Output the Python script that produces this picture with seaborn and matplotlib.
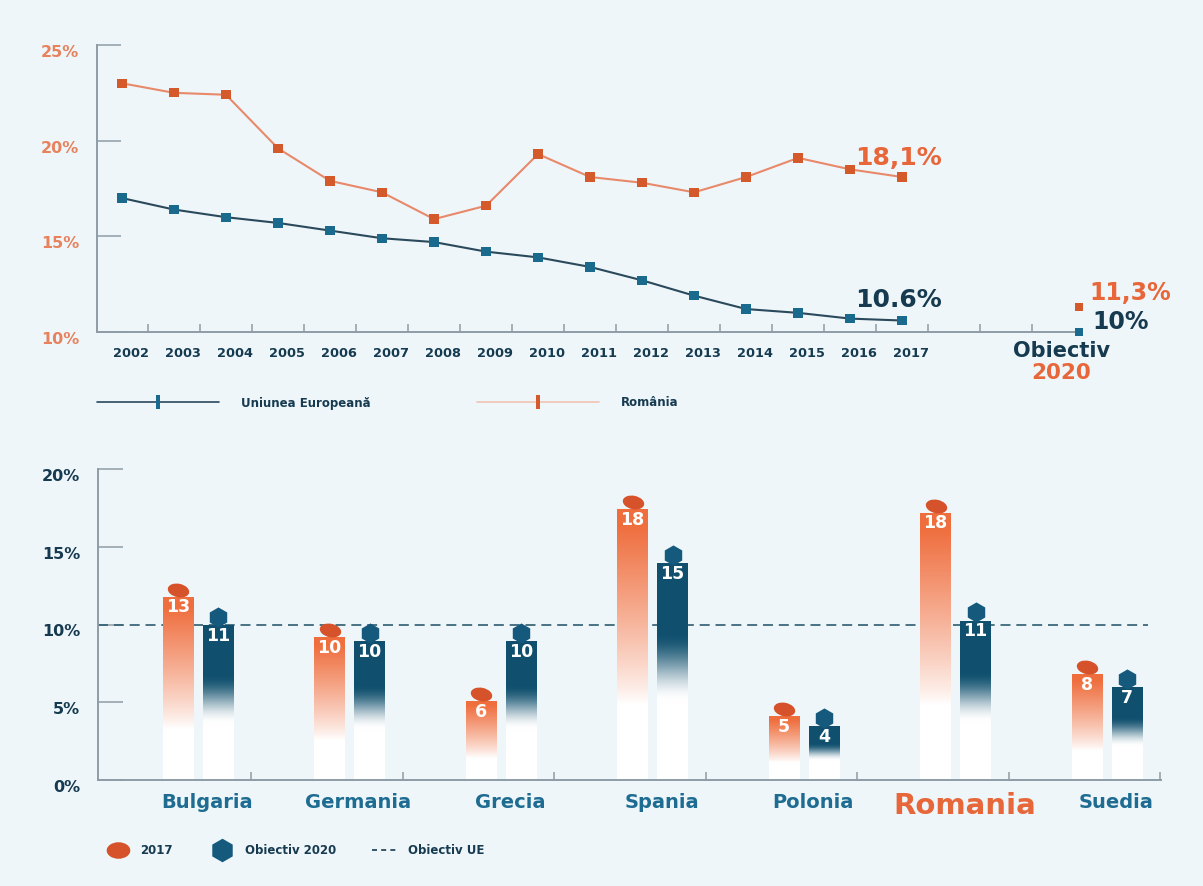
import numpy as np
import pandas as pd
import seaborn as sns
import matplotlib.pyplot as plt
from matplotlib.lines import Line2D
from matplotlib.path import Path
from matplotlib.transforms import Affine2D, ScaledTranslation
from matplotlib.colors import to_rgb

# top chart: early school leavers, 2002-2017
years = list(range(2002, 2018))
romania = [23.0, 22.5, 22.4, 19.6, 17.9, 17.3, 15.9, 16.6, 19.3, 18.1, 17.8, 17.3, 18.1, 19.1, 18.5, 18.1]
eu = [17.0, 16.4, 16.0, 15.7, 15.3, 14.9, 14.7, 14.2, 13.9, 13.4, 12.7, 11.9, 11.2, 11.0, 10.7, 10.6]
target_romania = 11.3
target_eu = 10.0

# bottom chart: 2017 vs 2020 target per country
countries = ["Bulgaria", "Germania", "Grecia", "Spania", "Polonia", "Romania", "Suedia"]
rate_2017 = [12.7, 10.1, 6.0, 18.3, 5.0, 18.1, 7.7]
target_2020 = [11.0, 10.0, 10.0, 15.0, 4.5, 11.3, 7.0]
labels_2017 = ["13", "10", "6", "18", "5", "18", "8"]
labels_2020 = ["11", "10", "10", "15", "4", "11", "7"]
eu_goal = 10

BG = "#EEF6FA"
ORANGE = "#E8673A"
ORANGE_TICK = "#E7825C"
ORANGE_LINE = "#E8896A"
ORANGE_MARK = "#D4592B"
BLUE_LINE = "#2A4A5C"
BLUE_MARK = "#1A6A8E"
NAVY = "#163A4F"
TEAL = "#1E6C91"
GRAY = "#8E9CA6"
BAR_ORANGE = "#EF6E3E"
BAR_BLUE = "#10506E"
CAP_ORANGE = "#D6522A"
CAP_BLUE = "#15597D"

sns.set_theme(style="white", rc={"axes.facecolor": BG, "figure.facecolor": BG})
plt.rcParams["font.family"] = ["DejaVu Sans"]
plt.rcParams["font.weight"] = "bold"

fig = plt.figure(figsize=(12.03, 8.86), dpi=100)
ax1 = fig.add_axes([97 / 1203, 1 - 332 / 886, (1079 - 97) / 1203, (332 - 45) / 886])
ax2 = fig.add_axes([98 / 1203, 1 - 780 / 886, (1161 - 98) / 1203, (780 - 469) / 886])

down = ScaledTranslation(0, -6 / 100, fig.dpi_scale_trans)

# ---------------- top line chart ----------------
top = pd.DataFrame({
    "pos": list(range(len(years))) * 2,
    "value": eu + romania,
    "series": ["Uniunea Europeană"] * len(years) + ["România"] * len(years),
})
line_pal = {"Uniunea Europeană": BLUE_LINE, "România": ORANGE_LINE}
mark_pal = {"Uniunea Europeană": BLUE_MARK, "România": ORANGE_MARK}
sns.lineplot(data=top, x="pos", y="value", hue="series", palette=line_pal,
             linewidth=1.5, legend=False, ax=ax1)
sns.scatterplot(data=top, x="pos", y="value", hue="series", palette=mark_pal,
                marker="s", s=45, linewidth=0, legend=False, ax=ax1, zorder=3)

goal_pos = len(years) + 2.4
goal = pd.DataFrame({"pos": [goal_pos, goal_pos], "value": [target_eu, target_romania],
                     "series": ["Uniunea Europeană", "România"]})
sns.scatterplot(data=goal, x="pos", y="value", hue="series", palette=mark_pal,
                marker="s", s=30, linewidth=0, legend=False, ax=ax1, zorder=4, clip_on=False)

ax1.set_xlim(-0.48, goal_pos)
ax1.set_ylim(10, 25)
ax1.set_xlabel("")
ax1.set_ylabel("")
ax1.set_xticks([i + 0.17 for i in range(len(years))], [str(y) for y in years])
ax1.set_xticks(np.arange(0.5, len(years) + 2, 1), minor=True)
ax1.tick_params(axis="x", which="major", length=0, pad=11, labelsize=9.3, labelcolor=NAVY)
ax1.tick_params(axis="x", which="minor", direction="in", length=6, width=1.1, color=GRAY, bottom=True)
ax1.set_yticks([10, 15, 20, 25], ["10%", "15%", "20%", "25%"])
ax1.tick_params(axis="y", direction="in", length=17, width=1.1, color=GRAY, pad=13,
                labelsize=11.5, labelcolor=ORANGE_TICK, left=True)
for lbl in ax1.get_yticklabels():
    lbl.set_transform(lbl.get_transform() + down)
sns.despine(ax=ax1)
for s in ["left", "bottom"]:
    ax1.spines[s].set_color(GRAY)
    ax1.spines[s].set_linewidth(1.4)

ax1.text(14.1, romania[-1] + 1.0, "18,1%", color=ORANGE, fontsize=18, va="center", ha="left")
ax1.text(14.1, eu[-1] + 1.05, "10.6%", color=NAVY, fontsize=18, va="center", ha="left")
ax1.text(goal_pos + 0.2, target_romania + 0.72, "11,3%", color=ORANGE, fontsize=17,
         va="center", ha="left", clip_on=False)
ax1.text(goal_pos + 0.25, target_eu + 0.52, "10%", color=NAVY, fontsize=17,
         va="center", ha="left", clip_on=False)
ax1.text(goal_pos - 0.34, 9.0, "Obiectiv", color=NAVY, fontsize=15, va="center", ha="center")
ax1.text(goal_pos - 0.34, 7.85, "2020", color=ORANGE, fontsize=15.5, va="center", ha="center")

rect = [(-0.32, -1), (0.32, -1), (0.32, 1), (-0.32, 1), (-0.32, -1)]
h_eu = Line2D([], [], color=BLUE_LINE, lw=1.2, marker=rect, markersize=10,
              markerfacecolor=BLUE_MARK, markeredgewidth=0)
h_ro = Line2D([], [], color="#F2C4B2", lw=1.2, marker=rect, markersize=10,
              markerfacecolor=ORANGE_MARK, markeredgewidth=0)
fig.legend([h_eu, h_ro], ["Uniunea Europeană", "România"], loc="center left",
           bbox_to_anchor=(97 / 1203, 1 - 403 / 886), ncol=2, frameon=False,
           handlelength=10.3, handletextpad=1.9, columnspacing=9, borderpad=0,
           borderaxespad=0, prop={"size": 8.5, "weight": "bold"}, labelcolor=NAVY)

# ---------------- bottom bar chart ----------------
cap_2017, cap_2020 = 0.9, 1.05
bars = pd.DataFrame({
    "country": countries * 2,
    "body": [v - cap_2017 for v in rate_2017] + [v - cap_2020 for v in target_2020],
    "series": ["2017"] * len(countries) + ["Obiectiv 2020"] * len(countries),
})
sns.barplot(data=bars, x="country", y="body", hue="series", order=countries,
            hue_order=["2017", "Obiectiv 2020"], palette={"2017": BAR_ORANGE, "Obiectiv 2020": BAR_BLUE},
            width=0.528, gap=0.24, legend=False, ax=ax2, zorder=2)

ax2.axhline(eu_goal, xmin=0, xmax=0.988, color="#2E5C6E", lw=1.2, dashes=(6, 3.5), zorder=1)

t = np.linspace(0, 1, 256)
fade_orange = np.clip((t - 0.28) / 0.66, 0, 1) ** 0.85
fade_blue = np.clip((t - 0.36) / 0.32, 0, 1)
fade_blue = fade_blue * fade_blue * (3 - 2 * fade_blue)

ell = Path.unit_circle().transformed(Affine2D().scale(1, 0.62).rotate_deg(-12))
series_info = [
    (ax2.containers[0], BAR_ORANGE, fade_orange, rate_2017, labels_2017, cap_2017, ell, CAP_ORANGE, 250),
    (ax2.containers[1], BAR_BLUE, fade_blue, target_2020, labels_2020, cap_2020, "h", CAP_BLUE, 210),
]
for cont, col, fade, vals, labs, cap, mk, cap_col, size in series_info:
    rgb = np.array(to_rgb(col))
    grad = (1 - fade)[:, None] * np.ones(3) + fade[:, None] * rgb
    grad = grad[:, None, :]
    cx = []
    for patch, v, lab in zip(cont.patches, vals, labs):
        x0, w, h = patch.get_x(), patch.get_width(), patch.get_height()
        patch.set_facecolor("none")
        patch.set_edgecolor("none")
        im = ax2.imshow(grad, extent=(x0, x0 + w, 0, h), origin="lower", aspect="auto",
                        interpolation="bicubic", zorder=2)
        im.set_clip_path(patch)
        cx.append(x0 + w / 2)
        ax2.text(x0 + w / 2, h - 0.12, lab, color="white", fontsize=12.5, ha="center",
                 va="top", zorder=5)
    ax2.scatter(cx, [v - cap / 2 for v in vals], marker=mk, s=size, color=cap_col,
                linewidths=0, zorder=4)

xs = np.arange(len(countries))
ax2.set_xlim(-0.66, 6.356)
ax2.set_ylim(0, 20)
ax2.set_xlabel("")
ax2.set_ylabel("")
ax2.set_xticks(xs, countries)
ax2.set_xticks(xs + 0.35, minor=True)
ax2.tick_params(axis="x", which="major", length=0, pad=9, labelsize=14, labelcolor=TEAL)
ax2.tick_params(axis="x", which="minor", direction="in", length=6, width=1.1, color=GRAY, bottom=True)
right = ScaledTranslation(9 / 100, 0, fig.dpi_scale_trans)
for lbl in ax2.get_xticklabels():
    lbl.set_transform(lbl.get_transform() + right)
    if lbl.get_text() == "Romania":
        lbl.set_color(ORANGE)
        lbl.set_fontsize(21)
ax2.set_yticks([0, 5, 10, 15, 20], ["0%", "5%", "10%", "15%", "20%"])
ax2.tick_params(axis="y", direction="in", length=18, width=1.1, color=GRAY, pad=13,
                labelsize=11.5, labelcolor=NAVY, left=True)
for lbl in ax2.get_yticklabels():
    lbl.set_transform(lbl.get_transform() + down)
sns.despine(ax=ax2)
for s in ["left", "bottom"]:
    ax2.spines[s].set_color(GRAY)
    ax2.spines[s].set_linewidth(1.4)

leg_ell = Path.unit_circle().transformed(Affine2D().scale(1, 0.7))
h_a = Line2D([], [], ls="none", marker=leg_ell, markersize=17, markerfacecolor=CAP_ORANGE, markeredgewidth=0)
h_b = Line2D([], [], ls="none", marker="h", markersize=17, markerfacecolor=CAP_BLUE, markeredgewidth=0)
h_c = Line2D([], [], color=NAVY, lw=1.2, dashes=(3, 2.5))
fig.legend([h_a, h_b, h_c], ["2017", "Obiectiv 2020", "Obiectiv UE"], loc="center left",
           bbox_to_anchor=(104 / 1203, 1 - 851 / 886), ncol=3, frameon=False,
           handlelength=2.3, handletextpad=0.8, columnspacing=3.0, borderpad=0,
           borderaxespad=0, prop={"size": 8.5, "weight": "bold"}, labelcolor=NAVY)

fig.savefig("out.png", dpi=100, facecolor=BG)
